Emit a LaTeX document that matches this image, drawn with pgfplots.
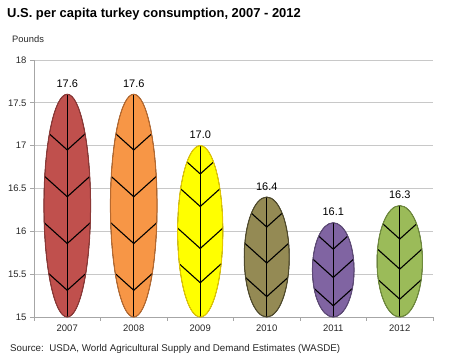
\documentclass[border=0pt]{standalone}
\usepackage{fontspec}
\setmainfont{Liberation Sans}
\usepackage{pgfplots}
\usepackage{pgfplotstable}
\pgfplotsset{compat=1.18}
\definecolor{leaf0}{HTML}{C0504D}\definecolor{edge0}{HTML}{8C3836}
\definecolor{leaf1}{HTML}{F79646}\definecolor{edge1}{HTML}{B7692F}
\definecolor{leaf2}{HTML}{FFFF00}\definecolor{edge2}{HTML}{E5C800}
\definecolor{leaf3}{HTML}{948A54}\definecolor{edge3}{HTML}{4F4A2C}
\definecolor{leaf4}{HTML}{8064A2}\definecolor{edge4}{HTML}{5E4A78}
\definecolor{leaf5}{HTML}{9BBB59}\definecolor{edge5}{HTML}{6E8A3C}
\definecolor{axisgray}{HTML}{A6A6A6}
\definecolor{gridgray}{HTML}{C8C8C8}
\pgfdeclareplotmark{blank}{}
\pgfplotstableread{
x v w f1 f2 f3 f4
0 17.6 23.3 0.25 0.46 0.67 0.88
1 17.6 23.3 0.25 0.46 0.67 0.88
2 17.0 22.6 0.165 0.355 0.60 0.80
3 16.4 22.5 0.25 0.55 0.83 0
4 16.1 20.8 0.28 0.58 0.88 0
5 16.3 22.7 0.30 0.57 0.84 0
}\leafdata
\begin{document}
\begin{tikzpicture}
\path[use as bounding box] (-34bp,-46bp) rectangle (416bp,317bp);
\begin{axis}[
  at={(0,0)}, anchor=south west,
  scale only axis, width=399bp, height=257bp,
  xmin=-0.5, xmax=5.5, ymin=15, ymax=18,
  axis x line*=bottom, axis y line*=left,
  axis line style={draw=axisgray, line width=0.8bp, -},
  tick align=outside,
  major tick length=4bp, minor tick length=4bp,
  tick style={draw=axisgray, line width=0.8bp},
  xtick={0,...,5}, xticklabels={2007,2008,2009,2010,2011,2012},
  every major x tick/.append style={draw=none},
  minor xtick={-0.5,0.5,...,5.5},
  ytick={15,15.5,...,18},
  ymajorgrids, grid style={draw=gridgray, line width=0.8bp},
  /pgf/number format/assume math mode=true,
  ticklabel style={font=\fontsize{9.5}{11}\selectfont, text=black!85},
  clip=false,
]
\addplot[
  scatter, only marks, mark=blank,
  visualization depends on={\thisrow{v} \as \V},
  visualization depends on={\thisrow{w} \as \W},
  visualization depends on={\thisrow{x} \as \K},
  visualization depends on={\thisrow{f1} \as \FA},
  visualization depends on={\thisrow{f2} \as \FB},
  visualization depends on={\thisrow{f3} \as \FC},
  visualization depends on={\thisrow{f4} \as \FD},
  scatter/@pre marker code/.code={%
    \begin{scope}
    \pgfmathtruncatemacro\KK{round(\K)}%
    \pgfmathsetlengthmacro\H{(\V-15)*257/3*1bp}%
    \pgfmathsetlengthmacro\Hh{0.5*\H}%
    \pgfmathsetlengthmacro\R{\W*1bp}%
    \fill[leaf\KK] (0pt,-\Hh) ellipse [x radius=\R, y radius=\Hh];
    \begin{scope}
      \clip (0pt,-\Hh) ellipse [x radius=\R, y radius=\Hh];
      \draw[black, line width=1.1bp] (0pt,0pt) -- (0pt,-\H);
      \foreach \f in {\FA,\FB,\FC,\FD}{%
        \ifdim\f pt>0pt
          \draw[black, line width=1.1bp, line join=miter]
            ({-2*\R},{-\f*\H+1.8*\R}) -- ({0pt},{-\f*\H}) -- ({2*\R},{-\f*\H+1.8*\R});
        \fi
      }
    \end{scope}
    \draw[edge\KK, line width=1bp] (0pt,-\Hh) ellipse [x radius=\R, y radius=\Hh];
  },
  scatter/@post marker code/.code={\end{scope}},
] table[x=x, y=v] {\leafdata};
\addplot[
  draw=none, mark=none,
  point meta=y,
  nodes near coords={\pgfmathprintnumber[fixed,fixed zerofill,precision=1]{\pgfplotspointmeta}},
  every node near coord/.append style={anchor=base, inner sep=0pt, yshift=7bp, text=black,
    font=\fontsize{11}{13}\selectfont},
] table[x=x, y=v] {\leafdata};
\end{axis}
\node[anchor=base west, inner sep=0pt, font=\bfseries\fontsize{13}{15}\selectfont] at (-27bp,299bp) {U.S. per capita turkey consumption, 2007 - 2012};
\node[anchor=base west, inner sep=0pt, font=\fontsize{9.4}{11}\selectfont, text=black!85] at (-22bp,274bp) {Pounds};
\node[anchor=base west, inner sep=0pt, font=\fontsize{9.8}{12}\selectfont, text=black!85] at (-24bp,-34bp) {Source:\ \ USDA, World Agricultural Supply and Demand Estimates (WASDE)};
\end{tikzpicture}
\end{document}
